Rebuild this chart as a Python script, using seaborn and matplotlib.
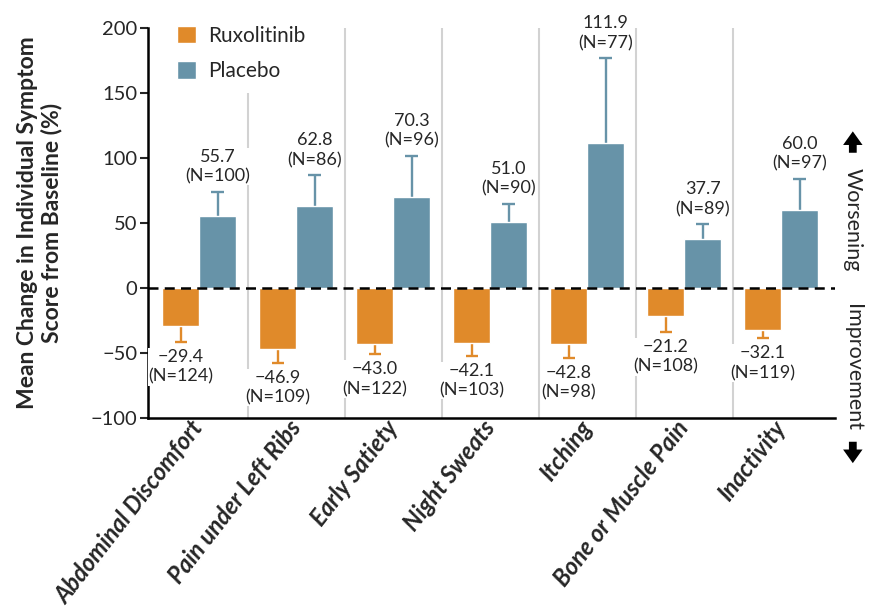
import pandas as pd
import numpy as np
import seaborn as sns
import matplotlib.pyplot as plt

# data
symptoms = ["Abdominal Discomfort", "Pain under Left Ribs", "Early Satiety",
            "Night Sweats", "Itching", "Bone or Muscle Pain", "Inactivity"]
rux_mean = [-29.4, -46.9, -43.0, -42.1, -42.8, -21.2, -32.1]
rux_err = [12.0, 10.5, 8.0, 10.0, 11.0, 12.5, 6.5]
rux_n = [124, 109, 122, 103, 98, 108, 119]
pla_mean = [55.7, 62.8, 70.3, 51.0, 111.9, 37.7, 60.0]
pla_err = [18.5, 24.0, 31.5, 14.0, 65.0, 11.5, 24.0]
pla_n = [100, 86, 96, 90, 77, 89, 97]
groups = ["Ruxolitinib", "Placebo"]
colors = {"Ruxolitinib": "#E08A2A", "Placebo": "#6793A8"}

df = pd.DataFrame({
    "symptom": symptoms * 2,
    "group": ["Ruxolitinib"] * 7 + ["Placebo"] * 7,
    "value": rux_mean + pla_mean,
})

sns.set_style("white")
plt.rcParams["font.family"] = ["Lato", "DejaVu Sans"]

fig = plt.figure(figsize=(8.72, 6.11), dpi=100)
ax = fig.add_axes([0.170, 0.316, 0.788, 0.638])

sns.barplot(data=df, x="symptom", y="value", hue="group", hue_order=groups,
            palette=colors, width=0.76, gap=0, errorbar=None, saturation=1,
            order=symptoms, ax=ax, zorder=2)

# one-sided error bars (stem + cap) and labels
x = np.arange(len(symptoms))
off = 0.19
cap = 0.065
for i in range(len(symptoms)):
    lo = rux_mean[i] - rux_err[i]
    hi = pla_mean[i] + pla_err[i]
    ax.vlines(x[i] - off, lo, rux_mean[i], color=colors["Ruxolitinib"], lw=1.7, zorder=1.5)
    ax.hlines(lo, x[i] - off - cap, x[i] - off + cap, color=colors["Ruxolitinib"], lw=1.7, zorder=1.5)
    ax.vlines(x[i] + off, pla_mean[i], hi, color=colors["Placebo"], lw=1.7, zorder=1.5)
    ax.hlines(hi, x[i] + off - cap, x[i] + off + cap, color=colors["Placebo"], lw=1.7, zorder=1.5)
    ax.annotate(f"{rux_mean[i]:.1f}".replace("-", "\u2212") + f"\n(N={rux_n[i]})",
                (x[i] - off, lo), xytext=(0, -5),
                textcoords="offset points", ha="center", va="top", fontsize=13,
                linespacing=1.3, zorder=5,
                bbox=dict(facecolor="white", edgecolor="none", pad=0.5))
    ax.annotate(f"{pla_mean[i]:.1f}\n(N={pla_n[i]})",
                (x[i] + off, hi), xytext=(0, 5),
                textcoords="offset points", ha="center", va="bottom", fontsize=13,
                linespacing=1.3, zorder=5,
                bbox=dict(facecolor="white", edgecolor="none", pad=0.5))

# separators and zero line
for k in range(len(symptoms) - 1):
    top = 150 if k == 0 else 200
    ax.vlines(k + 0.5, -100, top, color="#d2d2d2", lw=1.5, zorder=0)
ax.axhline(0, color="black", ls=(0, (4, 2.5)), lw=1.8, zorder=4)

ax.set_xlim(-0.526, 6.557)
ax.set_ylim(-100, 200)
ax.set_yticks([-100, -50, 0, 50, 100, 150, 200])
ax.tick_params(axis="y", length=6, width=1.5, labelsize=14.5, pad=2, direction="out", left=True)
ax.tick_params(axis="x", length=0, pad=4)
for s in ["top", "right"]:
    ax.spines[s].set_visible(False)
for s in ["left", "bottom"]:
    ax.spines[s].set_linewidth(1.8)
    ax.spines[s].set_color("black")

ax.set_xlabel("")
ax.set_xticks(x)
ax.set_xticklabels(symptoms, rotation=52, ha="right", va="center",
                   rotation_mode="anchor", fontsize=17, fontweight="bold", fontstyle="italic")
ax.set_ylabel("Mean Change in Individual Symptom\nScore from Baseline (%)",
              fontsize=16.5, fontweight="bold", linespacing=1.15)
ax.yaxis.set_label_coords(-0.125, 0.5)

ax.legend(loc="upper left", bbox_to_anchor=(0.203, 0.958), bbox_transform=fig.transFigure,
          frameon=False, fontsize=15, handlelength=0.9, handleheight=0.9,
          handletextpad=0.6, labelspacing=0.75, borderpad=0, borderaxespad=0)

# right-hand annotations
fig.text(0.978, 0.64, "Worsening", rotation=270, ha="center", va="center", fontsize=15.5)
fig.text(0.978, 0.398, "Improvement", rotation=270, ha="center", va="center", fontsize=15.5)
arrow = dict(arrowstyle="simple,head_length=0.7,head_width=1.0,tail_width=0.4",
             lw=0, color="black", mutation_scale=14, shrinkA=0, shrinkB=0)
fig.add_artist(plt.Annotation("", xy=(0.978, 0.785), xytext=(0.978, 0.750),
                              xycoords="figure fraction", arrowprops=arrow))
fig.add_artist(plt.Annotation("", xy=(0.978, 0.242), xytext=(0.978, 0.277),
                              xycoords="figure fraction", arrowprops=arrow))

fig.savefig("out.png", dpi=100)
